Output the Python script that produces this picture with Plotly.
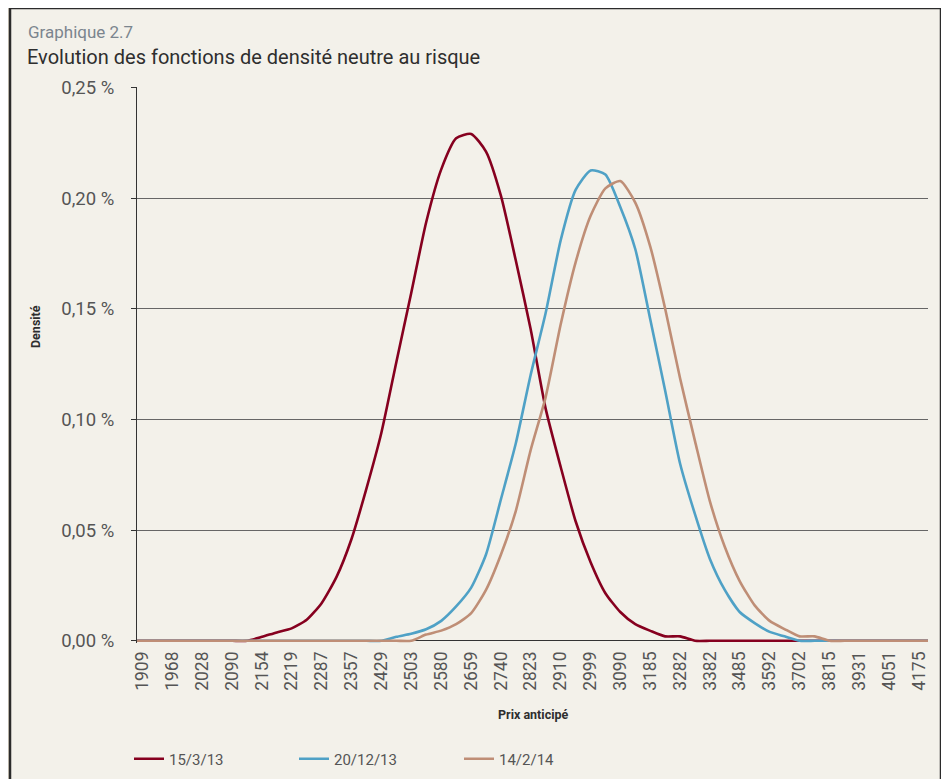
import plotly.graph_objects as go

# Prix anticipé (log-spaced categories) and densities in %
prix = [1899, 1909, 1938, 1968, 1998, 2028, 2059, 2090, 2122, 2154, 2186, 2219, 2253,
        2287, 2322, 2357, 2393, 2429, 2466, 2503, 2541, 2580, 2619, 2659, 2699, 2740,
        2781, 2823, 2866, 2910, 2954, 2999, 3044, 3090, 3137, 3185, 3233, 3282, 3332,
        3382, 3433, 3485, 3538, 3592, 3646, 3702, 3758, 3815, 3873, 3931, 3991, 4051,
        4113, 4175, 4213]

dens_150313 = [0, 0, 0, 0, 0, 0, 0, 0, 0, 0.0018, 0.0038, 0.0056, 0.0095,
               0.017, 0.029, 0.046, 0.069, 0.094, 0.126, 0.157, 0.189, 0.213, 0.227, 0.229, 0.221, 0.201,
               0.172, 0.141, 0.105, 0.0785, 0.054, 0.0355, 0.0215, 0.013, 0.0075, 0.0045, 0.002, 0.002, 0,
               0, 0, 0, 0, 0, 0, 0, 0, 0, 0, 0, 0, 0,
               0, 0, 0]

dens_201213 = [0, 0, 0, 0, 0, 0, 0, 0, 0, 0, 0, 0, 0,
               0, 0, 0, 0, 0, 0.0018, 0.0032, 0.0052, 0.009, 0.0155, 0.024, 0.039, 0.064,
               0.089, 0.120, 0.148, 0.181, 0.2037, 0.2125, 0.2107, 0.196, 0.177, 0.145, 0.113, 0.080, 0.057,
               0.037, 0.023, 0.013, 0.008, 0.004, 0.002, 0, 0, 0, 0, 0, 0, 0,
               0, 0, 0]

dens_140214 = [0, 0, 0, 0, 0, 0, 0, 0, 0, 0, 0, 0, 0,
               0, 0, 0, 0, 0, 0, 0, 0.0028, 0.0046, 0.0075, 0.0125, 0.023, 0.039,
               0.0585, 0.086, 0.110, 0.143, 0.171, 0.192, 0.2044, 0.2077, 0.198, 0.178, 0.150, 0.1185, 0.090,
               0.063, 0.0425, 0.027, 0.016, 0.009, 0.0053, 0.002, 0.002, 0, 0, 0, 0, 0,
               0, 0, 0]

tick_prix = [1909, 1968, 2028, 2090, 2154, 2219, 2287, 2357, 2429, 2503, 2580, 2659, 2740,
             2823, 2910, 2999, 3090, 3185, 3282, 3382, 3485, 3592, 3702, 3815, 3931, 4051, 4175]
y_ticks = [0, 0.05, 0.10, 0.15, 0.20, 0.25]
y_labels = ["0,00 %", "0,05 %", "0,10 %", "0,15 %", "0,20 %", "0,25 %"]

series = [
    ("15/3/13", dens_150313, "#86001f"),
    ("20/12/13", dens_201213, "#4fa1c6"),
    ("14/2/14", dens_140214, "#bf8e76"),
]

FONT = "Roboto, Liberation Sans, sans-serif"
INNER = "#f3f1ea"
OUTER = "#e6dece"

fig = go.Figure()
for name, vals, col in series:
    fig.add_trace(go.Scatter(x=prix, y=vals, mode="lines", name=name,
                             line=dict(color=col, width=2.6, shape="spline", smoothing=0.6)))

# page body has an 8px offset; work in window pixels and convert
OFF = 8
W, H = 941, 771
L, R, T, B = 129, 21, 79, 136
pw, ph = W - L - R, H - T - B

def px(xw):
    return (xw - OFF - L) / pw

def py(yw):
    return (H - B - (yw - OFF)) / ph

fig.add_shape(type="rect", xref="paper", yref="paper",
              x0=px(10), x1=px(941), y0=py(800), y1=py(8),
              fillcolor=INNER, line=dict(color="#2b2b2b", width=2.5), layer="below")

fig.add_annotation(text="Graphique 2.7", xref="paper", yref="paper", x=px(26), y=py(32),
                   xanchor="left", yanchor="middle", showarrow=False,
                   font=dict(family=FONT, size=17, color="#7b858e"))
fig.add_annotation(text="Evolution des fonctions de densité neutre au risque", xref="paper", yref="paper",
                   x=px(25), y=py(57), xanchor="left", yanchor="middle", showarrow=False,
                   font=dict(family=FONT, size=20, color="#2e2e2e"))
fig.add_annotation(text="<b>Densité</b>", xref="paper", yref="paper", x=px(35), y=py(327),
                   xanchor="center", yanchor="middle", showarrow=False, textangle=-90,
                   font=dict(family=FONT, size=12.5, color="#2e2e2e"))
fig.add_annotation(text="<b>Prix anticipé</b>", xref="paper", yref="paper", x=0.5, y=py(714),
                   xanchor="center", yanchor="middle", showarrow=False,
                   font=dict(family=FONT, size=12.5, color="#2e2e2e"))

fig.update_layout(
    width=W, height=H,
    margin=dict(l=L, r=R, t=T, b=B, autoexpand=False),
    paper_bgcolor=OUTER, plot_bgcolor=INNER,
    showlegend=True,
    legend=dict(orientation="h", x=px(129), y=py(759), xanchor="left", yanchor="middle",
                font=dict(family=FONT, size=15, color="#555555"),
                bgcolor="rgba(0,0,0,0)", entrywidth=120, entrywidthmode="pixels"),
    xaxis=dict(type="log", range=[3.2785, 3.6246], tickmode="array", tickvals=tick_prix,
               ticktext=[str(t) for t in tick_prix], tickangle=-90, showgrid=False,
               showline=False, zeroline=False, ticks="", ticklabelstandoff=4,
               tickfont=dict(family=FONT, size=17.5, color="#555555")),
    yaxis=dict(range=[-0.001, 0.2502], tickmode="array", tickvals=y_ticks, ticktext=y_labels,
               showgrid=True, gridcolor="#666666", gridwidth=1,
               zeroline=True, zerolinecolor="#333333", zerolinewidth=1,
               showline=True, linecolor="#333333", linewidth=1,
               ticks="outside", ticklen=5, tickcolor="#333333", ticklabelstandoff=13,
               tickfont=dict(family=FONT, size=18.5, color="#555555")),
)

fig.write_html("out.html")
